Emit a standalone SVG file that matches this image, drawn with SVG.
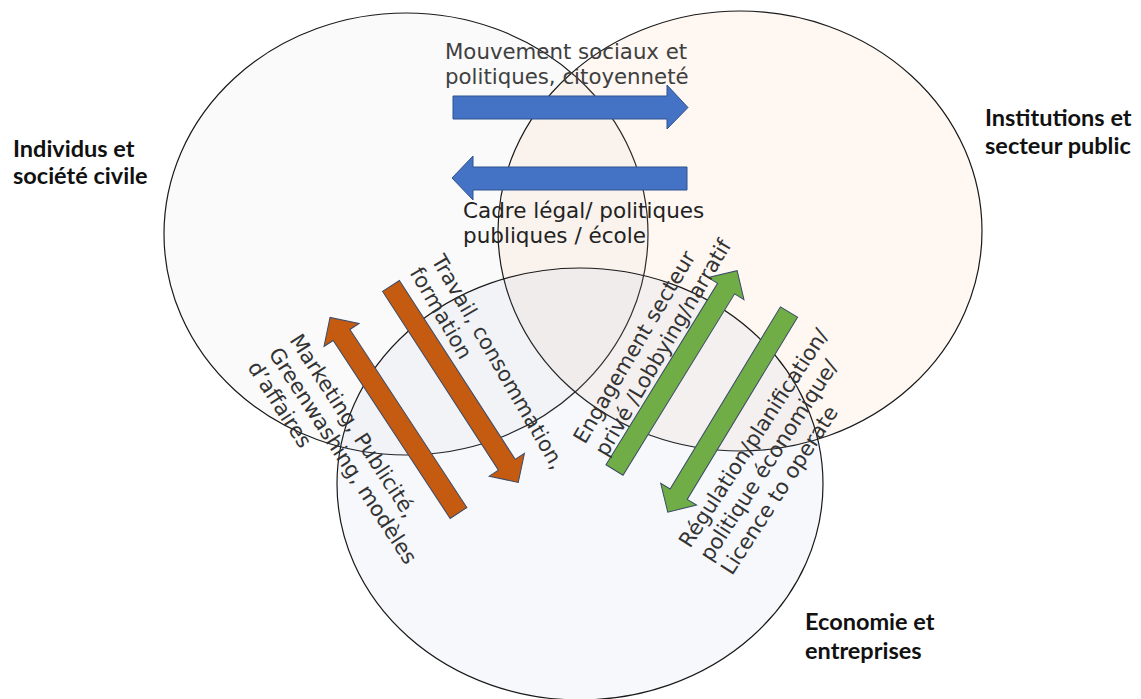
<svg xmlns="http://www.w3.org/2000/svg" width="1141" height="699" viewBox="0 0 1141 699">
<style>
.circ{stroke:#1a1a1a;stroke-width:1.2}
.lbl{font-family:Lato,"Liberation Sans",sans-serif;font-weight:bold;font-size:23.5px;fill:#111}
.t{font-family:"DejaVu Sans",Verdana,sans-serif;font-size:21px;fill:#333}
.blue{fill:#4472c4;stroke:#2f528f;stroke-width:1}
.orange{fill:#c55a11;stroke:#3b4a66;stroke-width:1}
.green{fill:#70ad47;stroke:#3b4a66;stroke-width:1}
</style>
<defs>
<path id="arr" d="M0,-10 H213 V-21 L234,0 L213,21 V10 H0 Z"/>
</defs>
<rect width="1141" height="699" fill="#fff"/>
<g id="individus">
<ellipse class="circ" cx="406" cy="234" rx="242" ry="221" fill="#a6a6a6" fill-opacity="0.06"/>
<text class="lbl" x="13" y="157">Individus et</text>
<text class="lbl" x="13" y="184">société civile</text>
</g>
<g id="institutions">
<ellipse class="circ" cx="740" cy="231" rx="242" ry="220" fill="#f4b183" fill-opacity="0.1"/>
<text class="lbl" x="985" y="126">Institutions et</text>
<text class="lbl" x="985" y="154">secteur public</text>
</g>
<g id="economie">
<ellipse class="circ" cx="580" cy="484" rx="243" ry="216" fill="#8faadc" fill-opacity="0.08"/>
<text class="lbl" x="805" y="630">Economie et</text>
<text class="lbl" x="805" y="659">entreprises</text>
</g>
<g id="connectors">
<path class="blue" d="M453,96 H667 V85 L688,107.5 L667,129 V119 H453 Z"/>
<path class="blue" d="M687,167 H473 V156 L452,178 L473,200 V190 H687 Z"/>
<use href="#arr" class="orange" transform="translate(391,286) rotate(57.06)"/>
<use href="#arr" class="orange" transform="translate(458.5,513) rotate(-123.3)"/>
<use href="#arr" class="green" transform="translate(614.5,470) rotate(-58.4)"/>
<use href="#arr" class="green" transform="translate(789,312) rotate(121.2)"/>
</g>
<g id="arrow-labels">
<text class="t" x="445" y="59" style="fill:#404040;font-size:21.3px">Mouvement sociaux et</text>
<text class="t" x="445" y="84" style="fill:#404040;font-size:21.3px">politiques, citoyenneté</text>
<text class="t" x="463" y="218" style="fill:#222;font-size:21.5px">Cadre légal/ politiques</text>
<text class="t" x="463" y="243" style="fill:#222;font-size:21.5px">publiques / école</text>
<g transform="translate(431,260) rotate(60)">
<text class="t" x="0" y="0">Travail, consommation,</text>
<text class="t" x="0" y="25">formation</text>
</g>
<g transform="translate(289,340) rotate(57)">
<text class="t" x="0" y="0">Marketing, Publicité,</text>
<text class="t" x="0" y="25">Greenwashing, modèles</text>
<text class="t" x="0" y="50">d’affaires</text>
</g>
<g transform="translate(585,445) rotate(-59.5)">
<text class="t" x="0" y="0">Engagement secteur</text>
<text class="t" x="0" y="25">privé /Lobbying/narratif</text>
</g>
<g transform="translate(690,549) rotate(-57)">
<text class="t" x="0" y="0">Régulation/planification/</text>
<text class="t" x="0" y="25">politique économique/</text>
<text class="t" x="0" y="50">Licence to operate</text>
</g>
</g>
</svg>
